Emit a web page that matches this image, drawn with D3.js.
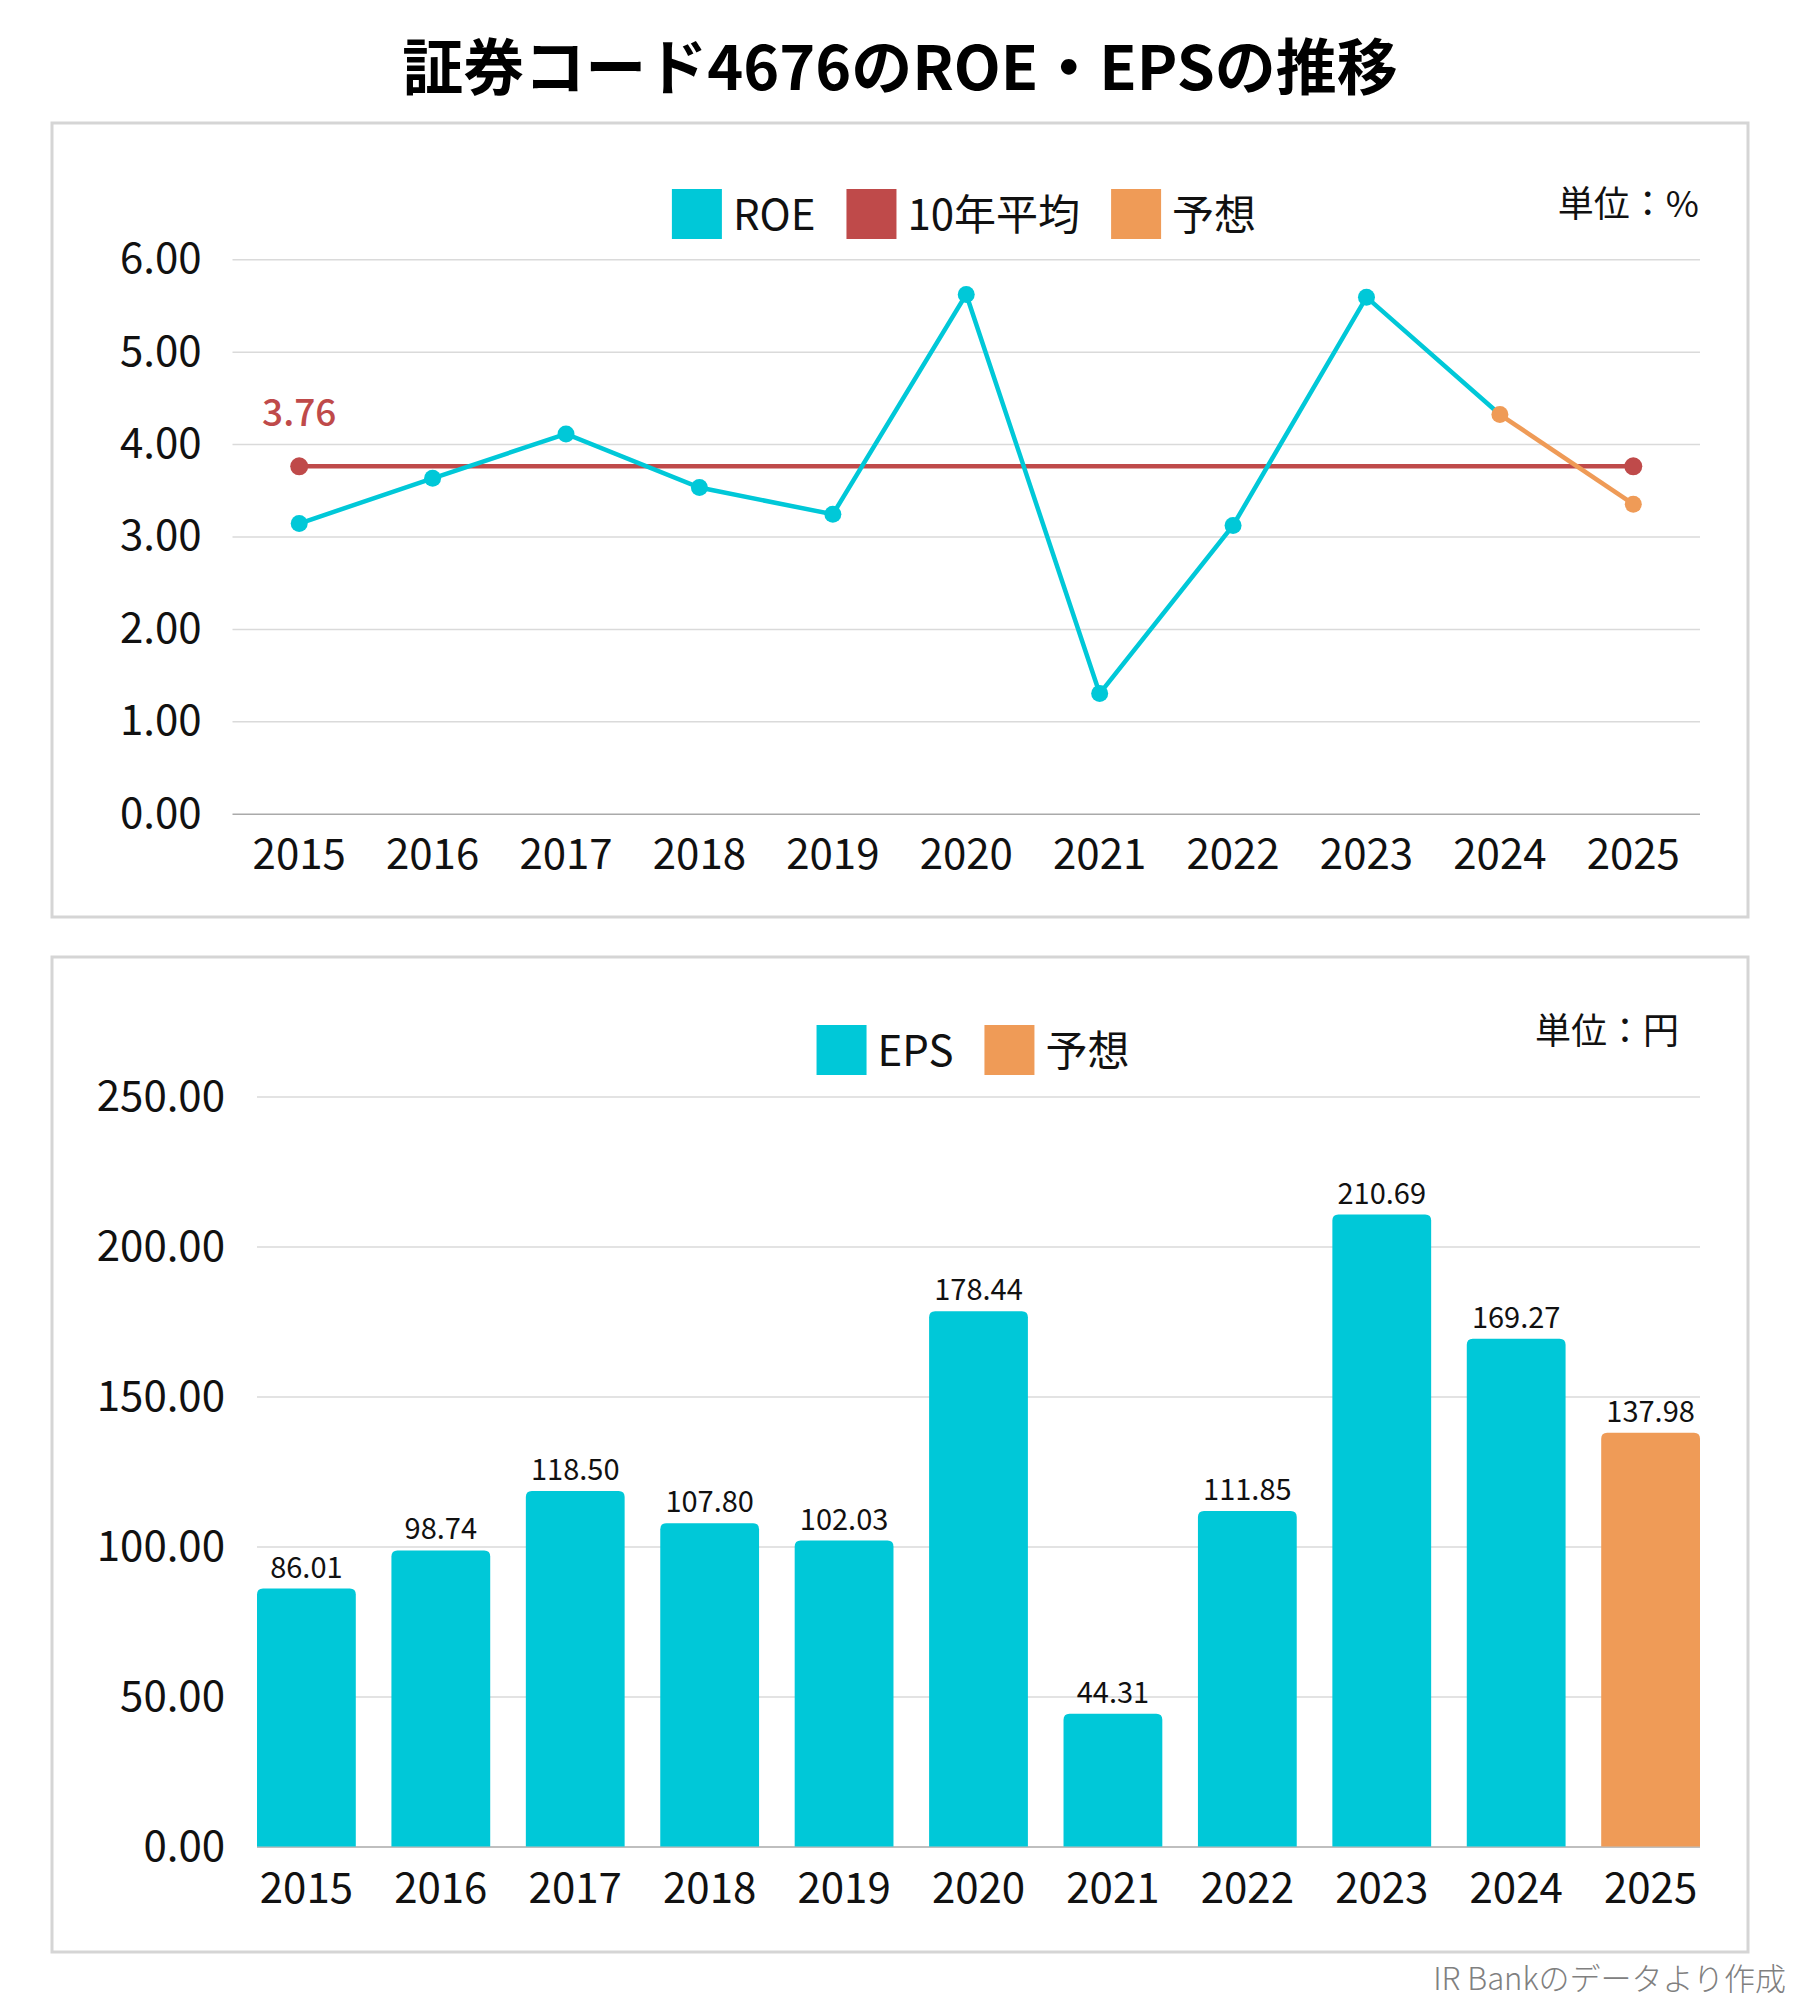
<!DOCTYPE html>
<html>
<head>
<meta charset="utf-8">
<style>
  body { margin: 0; background: #fff; }
  text { font-family: "Noto Sans CJK JP", "Noto Sans", sans-serif; fill: #111; }
  .grid line { stroke: #dadada; stroke-width: 1.5px; }
  .grid path { display: none; }
  .axis path { display: none; }
  .axis text { font-size: 42px; fill: #111; }
</style>
<script src="https://cdnjs.cloudflare.com/ajax/libs/d3/7.8.5/d3.min.js"></script>
</head>
<body>
<div id="chart"></div>
<script>
// ---- data ----
var years = ["2015", "2016", "2017", "2018", "2019", "2020", "2021", "2022", "2023", "2024", "2025"];
var roe = [3.14, 3.63, 4.11, 3.53, 3.24, 5.62, 1.30, 3.12, 5.59, 4.32, 3.35];
var roeAvg = 3.76;
var roeForecastFrom = "2024";   // orange segment starts here
var roeTicks = [0, 1, 2, 3, 4, 5, 6];
var eps = [86.01, 98.74, 118.50, 107.80, 102.03, 178.44, 44.31, 111.85, 210.69, 169.27, 137.98];
var epsForecast = ["2025"];
var epsTicks = [0, 50, 100, 150, 200, 250];

var cyan = "#00c8d8", red = "#bf4a4a", orange = "#ef9b57";
var fmt = d3.format(".2f");

var svg = d3.select("#chart").append("svg")
    .attr("width", 1800)
    .attr("height", 2000);

svg.append("rect").attr("width", 1800).attr("height", 2000).attr("fill", "#fff");

// title
svg.append("text")
    .attr("x", 900).attr("y", 90)
    .attr("text-anchor", "middle")
    .style("font-size", "61px").style("font-weight", "bold").style("fill", "#000")
    .text("証券コード4676のROE・EPSの推移");

// panels
svg.append("rect").attr("x", 52).attr("y", 123).attr("width", 1696).attr("height", 794)
    .attr("fill", "none").attr("stroke", "#d5d5d5").attr("stroke-width", 3);
svg.append("rect").attr("x", 52).attr("y", 957).attr("width", 1696).attr("height", 995)
    .attr("fill", "none").attr("stroke", "#d5d5d5").attr("stroke-width", 3);

// legend helper: items laid out left to right, centered on cx
function legend(items, cx, top) {
  var g = svg.append("g");
  var x = 0;
  items.forEach(function (it, i) {
    g.append("rect").attr("x", x).attr("y", top).attr("width", 50).attr("height", 50).attr("fill", it.color);
    var t = g.append("text").attr("x", x + 61).attr("y", top + 41)
        .style("font-size", "42px").text(it.label);
    x += 61 + t.node().getComputedTextLength() + 31;
  });
  x -= 31;
  g.attr("transform", "translate(" + (cx - x / 2) + ",0)");
}

// ===== ROE chart =====
var x1 = d3.scaleBand().domain(years).range([232.5, 1700]).padding(0);
var y1 = d3.scaleLinear().domain([0, 6]).range([813.7, 259.3]);

svg.append("g").attr("class", "grid")
    .attr("transform", "translate(232.5,0)")
    .call(d3.axisLeft(y1).tickValues(roeTicks).tickSize(-(1700 - 232.5)).tickFormat(""))
    .selectAll("line").style("stroke", function (d) { return d === 0 ? "#aaa" : null; });

svg.append("g").attr("class", "axis")
    .attr("transform", "translate(232.5,0)")
    .call(d3.axisLeft(y1).tickValues(roeTicks).tickFormat(fmt).tickSize(0).tickPadding(31));

svg.append("g").attr("class", "axis")
    .attr("transform", "translate(0," + y1(0) + ")")
    .call(d3.axisBottom(x1).tickSize(0).tickPadding(25));

var cx1 = function (d) { return x1(d) + x1.bandwidth() / 2; };

// 10-year average
svg.append("line")
    .attr("x1", cx1(years[0])).attr("x2", cx1(years[years.length - 1]))
    .attr("y1", y1(roeAvg)).attr("y2", y1(roeAvg))
    .attr("stroke", red).attr("stroke-width", 4.5);
svg.selectAll(".avgdot").data([years[0], years[years.length - 1]]).enter().append("circle")
    .attr("cx", cx1).attr("cy", y1(roeAvg)).attr("r", 9).attr("fill", red);
svg.append("text")
    .attr("x", cx1(years[0])).attr("y", 426)
    .attr("text-anchor", "middle")
    .style("font-size", "37px").style("font-weight", 500).style("fill", red)
    .text(fmt(roeAvg));

var roeData = years.map(function (y, i) { return { year: y, v: roe[i] }; });
var fi = years.indexOf(roeForecastFrom);
var line1 = d3.line().x(function (d) { return cx1(d.year); }).y(function (d) { return y1(d.v); });

svg.append("path").datum(roeData.slice(0, fi + 1))
    .attr("d", line1).attr("fill", "none").attr("stroke", cyan).attr("stroke-width", 4.5);
svg.append("path").datum(roeData.slice(fi))
    .attr("d", line1).attr("fill", "none").attr("stroke", orange).attr("stroke-width", 4.5);
svg.selectAll(".roedot").data(roeData).enter().append("circle")
    .attr("cx", function (d) { return cx1(d.year); })
    .attr("cy", function (d) { return y1(d.v); })
    .attr("r", 8.5)
    .attr("fill", function (d, i) { return i >= fi ? orange : cyan; });

legend([{ label: "ROE", color: cyan }, { label: "10年平均", color: red }, { label: "予想", color: orange }], 964, 189);

svg.append("text").attr("x", 1699).attr("y", 217).attr("text-anchor", "end")
    .style("font-size", "36px").text("単位：%");

// ===== EPS chart =====
var x2 = d3.scaleBand().domain(years).range([257, 1700]).paddingInner(0.265).paddingOuter(0);
var y2 = d3.scaleLinear().domain([0, 250]).range([1846.6, 1096.6]);

svg.append("g").attr("class", "grid")
    .attr("transform", "translate(257,0)")
    .call(d3.axisLeft(y2).tickValues(epsTicks).tickSize(-(1700 - 257)).tickFormat(""))
    .selectAll("line").style("stroke", function (d) { return d === 0 ? "#aaa" : null; });

svg.append("g").attr("class", "axis")
    .attr("transform", "translate(257,0)")
    .call(d3.axisLeft(y2).tickValues(epsTicks).tickFormat(fmt).tickSize(0).tickPadding(32));

svg.append("g").attr("class", "axis")
    .attr("transform", "translate(0," + y2(0) + ")")
    .call(d3.axisBottom(x2).tickSize(0).tickPadding(27));

var epsData = years.map(function (y, i) { return { year: y, v: eps[i], f: epsForecast.indexOf(y) >= 0 }; });

function topRounded(x, y, w, h, r) {
  return "M" + x + "," + (y + h) +
         "V" + (y + r) + "Q" + x + "," + y + " " + (x + r) + "," + y +
         "H" + (x + w - r) + "Q" + (x + w) + "," + y + " " + (x + w) + "," + (y + r) +
         "V" + (y + h) + "Z";
}

svg.selectAll(".bar").data(epsData).enter().append("path")
    .attr("d", function (d) {
      return topRounded(x2(d.year), y2(d.v), x2.bandwidth(), y2(0) - y2(d.v), 6);
    })
    .attr("fill", function (d) { return d.f ? orange : cyan; });

svg.selectAll(".barlabel").data(epsData).enter().append("text")
    .attr("x", function (d) { return x2(d.year) + x2.bandwidth() / 2; })
    .attr("y", function (d) { return y2(d.v) - 11; })
    .attr("text-anchor", "middle")
    .style("font-size", "29px")
    .text(function (d) { return fmt(d.v); });

legend([{ label: "EPS", color: cyan }, { label: "予想", color: orange }], 973, 1025);

svg.append("text").attr("x", 1679).attr("y", 1044).attr("text-anchor", "end")
    .style("font-size", "36px").text("単位：円");

// source
svg.append("text").attr("x", 1786).attr("y", 1990).attr("text-anchor", "end")
    .style("font-size", "31px").style("font-weight", 300).style("fill", "#808080")
    .text("IR Bankのデータより作成");
</script>
</body>
</html>
